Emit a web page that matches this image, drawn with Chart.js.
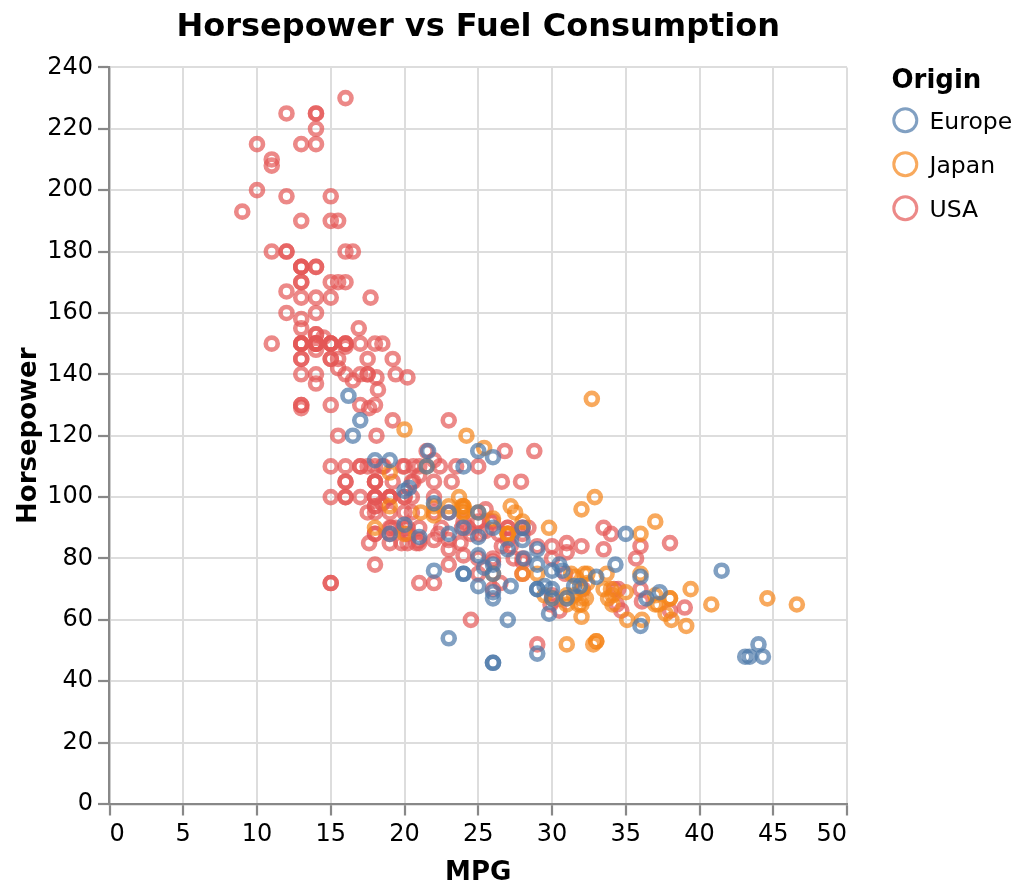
<!DOCTYPE html>
<html>
<head>
<meta charset="utf-8">
<title>Horsepower vs Fuel Consumption</title>
<script src="https://cdn.jsdelivr.net/npm/chart.js@4.4.1/dist/chart.umd.min.js"></script>
<style>
html, body { margin: 0; padding: 0; background: #fff; }
#wrap { width: 1024px; height: 895px; }
</style>
</head>
<body>
<div id="wrap"><canvas id="myChart" width="1024" height="895"></canvas></div>
<script>
// cars data (MPG / Horsepower per origin)
var origins = ['Europe', 'Japan', 'USA']

var europeMpg = [26, 25, 24, 25, 26, 28, 30, 30, 27, 23, 18, 22, 21, 26, 26, 26, 29, 24, 20, 19,
  24, 29, 26, 26, 24, 26, 31, 25, 29, 23, 23, 22, 25, 28, 25, 27, 29, 29.5, 20, 19,
  16.5, 36, 29, 30.5, 21.5, 43.1, 20.3, 17, 21.6, 16.2, 31.5, 31.9, 25.4, 27.2, 37.3, 41.5, 34.3, 44.3, 43.4, 36.4,
  30, 29.8, 35, 33, 28.1, 30.7, 36, 44]
var europeHp = [46, 87, 90, 95, 113, 90, 70, 76, 60, 54, 112, 76, 87, 69, 46, 90, 49, 75, 91, 112,
  110, 83, 67, 78, 75, 75, 67, 71, 70, 95, 88, 98, 115, 86, 81, 83, 70, 71, 102, 88,
  120, 58, 78, 78, 110, 48, 103, 125, 115, 133, 71, 71, 77, 71, 69, 76, 78, 48, 48, 67,
  67, 62, 88, 74, 80, 76, 74, 52]

var japanMpg = [24, 27, 27, 25, 31, 35, 24, 19, 28, 23, 27, 20, 22, 18, 20, 31, 32, 31, 32, 24,
  26, 29, 24, 24, 33, 33, 32, 28, 19, 31.5, 33.5, 26, 30, 22, 21.5, 32.8, 39.4, 36.1, 27.5, 27.2,
  21.1, 23.9, 29.5, 34.1, 31.8, 38.1, 37.2, 29.8, 31.3, 37, 32.2, 46.6, 40.8, 44.6, 33.8, 32.7, 23.7, 32.4, 39.1, 35.1,
  32.3, 37, 37.7, 34.1, 33.7, 32.4, 32.9, 31.6, 25.4, 24.2, 37, 31, 36, 36, 34, 38, 32, 38, 32]
var japanHp = [95, 88, 88, 95, 65, 69, 95, 97, 92, 97, 88, 88, 94, 90, 122, 67, 65, 52, 61, 97,
  93, 75, 96, 97, 53, 53, 70, 75, 108, 68, 70, 75, 67, 97, 110, 52, 70, 60, 95, 97,
  95, 97, 68, 65, 65, 60, 65, 90, 75, 92, 75, 65, 65, 67, 67, 132, 100, 72, 58, 60,
  67, 65, 62, 68, 75, 75, 100, 74, 116, 120, 68, 68, 88, 75, 70, 67, 67, 67, 96]

var usaMpg = [18, 15, 18, 16, 17, 15, 14, 14, 14, 15, 15, 14, 15, 14, 22, 18, 21, 21, 10, 10,
  11, 9, 28, 19, 16, 17, 19, 18, 14, 14, 14, 14, 12, 13, 13, 18, 22, 19, 18, 23,
  26, 25, 20, 21, 13, 14, 15, 14, 17, 11, 13, 12, 13, 15, 13, 13, 14, 22, 28, 13,
  14, 13, 14, 15, 12, 13, 13, 14, 13, 12, 13, 18, 16, 18, 18, 23, 11, 12, 13, 12,
  18, 21, 19, 21, 15, 16, 11, 20, 19, 15, 26, 25, 16, 16, 18, 16, 13, 14, 14, 14,
  28, 19, 18, 15, 15, 16, 15, 16, 14, 17, 16, 15, 18, 21, 20, 13, 23, 20, 23, 18,
  19, 25, 26, 17.5, 16, 15.5, 14.5, 22, 22, 24, 22.5, 29, 24.5, 20, 18, 18.5, 17.5, 26.5, 13, 16.5,
  13, 13, 13, 30, 25.5, 17.5, 17, 15.5, 15, 17.5, 20.5, 19, 18.5, 16, 15.5, 15.5, 16, 24.5, 25.5, 30.5,
  33.5, 36.1, 19.9, 19.4, 20.2, 19.2, 20.5, 20.2, 25.1, 20.5, 19.4, 20.6, 20.8, 18.6, 18.1, 19.2, 17.7, 18.1, 17.5, 30,
  30.9, 23.2, 23.8, 21.5, 19.8, 22.3, 20.2, 20.6, 17, 17.6, 16.5, 18.2, 16.9, 15.5, 19.2, 18.5, 35.7, 27.4, 23, 23.9,
  34.2, 34.5, 28.4, 28.8, 26.8, 33.5, 32.1, 28, 26.4, 24.3, 19.1, 27.9, 27.2, 26.6, 25.8, 23.5, 30, 39, 34.7, 34.4,
  29.9, 22.4, 26.6, 20.2, 17.6, 28, 27, 34, 31, 29, 27, 24, 38, 36, 25, 38, 26, 22, 36, 27,
  27, 32, 28, 31]
var usaHp = [130, 165, 150, 150, 140, 198, 220, 215, 225, 190, 170, 160, 150, 225, 95, 97, 85, 90, 215, 200,
  210, 193, 90, 100, 105, 100, 88, 100, 165, 175, 153, 150, 180, 170, 175, 110, 72, 100, 88, 86,
  70, 80, 90, 86, 165, 175, 150, 153, 150, 208, 155, 160, 190, 150, 130, 140, 150, 86, 80, 175,
  150, 145, 137, 150, 198, 150, 158, 150, 215, 225, 175, 105, 100, 100, 88, 95, 150, 167, 170, 180,
  100, 72, 85, 107, 145, 230, 180, 95, 100, 100, 80, 75, 100, 110, 105, 140, 150, 150, 140, 150,
  75, 95, 105, 72, 72, 170, 145, 150, 148, 110, 105, 110, 95, 110, 110, 129, 83, 100, 78, 97,
  90, 92, 79, 140, 150, 120, 152, 100, 105, 81, 90, 52, 60, 100, 78, 110, 95, 72, 150, 180,
  145, 130, 150, 80, 96, 145, 110, 145, 130, 110, 105, 100, 98, 180, 170, 190, 149, 88, 89, 63,
  83, 66, 110, 140, 139, 105, 95, 85, 88, 100, 90, 105, 85, 110, 120, 145, 165, 139, 140, 68,
  75, 105, 85, 115, 85, 88, 90, 110, 130, 129, 138, 135, 155, 142, 125, 150, 80, 80, 125, 90,
  70, 70, 90, 115, 115, 90, 70, 90, 88, 90, 90, 105, 84, 84, 92, 110, 84, 64, 63, 65,
  65, 110, 105, 88, 85, 88, 88, 88, 85, 84, 90, 92, 63, 70, 110, 85, 92, 112, 84, 90,
  86, 84, 79, 82]

var mpgTicks = [0, 5, 10, 15, 20, 25, 30, 35, 40, 45, 50]
var hpTicks = [0, 20, 40, 60, 80, 100, 120, 140, 160, 180, 200, 220, 240]

var colors = ['rgba(76,120,168,0.7)', 'rgba(245,133,24,0.7)', 'rgba(228,87,86,0.7)']

function toPoints(xs, ys) {
  return xs.map(function (x, i) { return { x: x, y: ys[i] } })
}

Chart.defaults.font.family = '"DejaVu Sans", sans-serif'
Chart.defaults.color = '#000'

// legend drawn on the right like the original, next to the plot
var originLegend = {
  id: 'originLegend',
  afterDraw: function (chart) {
    var ctx = chart.ctx
    var left = chart.chartArea.right + 44.5
    ctx.save()
    ctx.fillStyle = '#000'
    ctx.textAlign = 'left'
    ctx.textBaseline = 'alphabetic'
    ctx.font = 'bold 26px "DejaVu Sans"'
    ctx.fillText('Origin', left, 88.3)
    chart.data.datasets.forEach(function (ds, i) {
      var cy = 120.3 + i * 44
      ctx.beginPath()
      ctx.arc(left + 13.8, cy, 11.5, 0, Math.PI * 2)
      ctx.strokeStyle = ds.borderColor
      ctx.lineWidth = 3
      ctx.stroke()
      ctx.font = '23.5px "DejaVu Sans"'
      ctx.fillText(ds.label, left + 38, cy + 8.3)
    })
    ctx.restore()
  }
}

function makeSet(i, xs, ys) {
  return {
    label: origins[i],
    data: toPoints(xs, ys),
    borderColor: colors[i],
    backgroundColor: 'rgba(0,0,0,0)',
    pointStyle: 'circle',
    pointRadius: 6,
    pointHoverRadius: 6,
    pointBorderWidth: 4.6,
    pointHoverBorderWidth: 4.6
  }
}

var myChart = document.getElementById('myChart').getContext('2d')
var chart = new Chart(myChart, {
  type: 'scatter',
  data: {
    datasets: [
      makeSet(0, europeMpg, europeHp),
      makeSet(1, japanMpg, japanHp),
      makeSet(2, usaMpg, usaHp)
    ]
  },
  options: {
    responsive: false,
    animation: false,
    devicePixelRatio: 1,
    layout: { padding: { top: 0, right: 177, bottom: 0, left: 0 } },
    plugins: {
      legend: { display: false },
      tooltip: { enabled: false },
      title: {
        display: true,
        text: 'Horsepower vs Fuel Consumption',
        fullSize: false,
        color: '#000',
        font: { size: 32, weight: 'bold' },
        padding: { top: 8, bottom: 21 }
      }
    },
    scales: {
      x: {
        type: 'linear',
        min: 0,
        max: 50,
        afterBuildTicks: function (scale) {
          scale.ticks = mpgTicks.map(function (v) { return { value: v } })
        },
        afterFit: function (scale) { scale.height = 91 },
        ticks: {
          font: { size: 24 },
          color: '#000',
          padding: 5,
          maxRotation: 0,
          autoSkip: false,
          callback: function (v) {
            // first/last label sit flush with the plot edge
            if (v === mpgTicks[0]) return '  ' + v
            if (v === mpgTicks[mpgTicks.length - 1]) return v + '    '
            return '' + v
          }
        },
        grid: { color: '#ddd', lineWidth: 2, tickColor: '#888', tickLength: 11.5, tickWidth: 2.2 },
        border: { color: '#888', width: 2.2 },
        title: {
          display: true,
          text: 'MPG',
          color: '#000',
          font: { size: 26, weight: 'bold' },
          padding: { top: 0, bottom: 6 }
        }
      },
      y: {
        type: 'linear',
        min: 0,
        max: 240,
        afterBuildTicks: function (scale) {
          scale.ticks = hpTicks.map(function (v) { return { value: v } })
        },
        afterFit: function (scale) { scale.width = 109.5 },
        ticks: {
          font: { size: 24 },
          color: '#000',
          padding: 5,
          autoSkip: false
        },
        grid: { color: '#ddd', lineWidth: 2, tickColor: '#888', tickLength: 11.5, tickWidth: 2.2 },
        border: { color: '#888', width: 2.2 },
        title: {
          display: true,
          text: 'Horsepower',
          color: '#000',
          font: { size: 26, weight: 'bold' },
          padding: { top: 14, bottom: 0 }
        }
      }
    }
  },
  plugins: [originLegend]
})
</script>
</body>
</html>
